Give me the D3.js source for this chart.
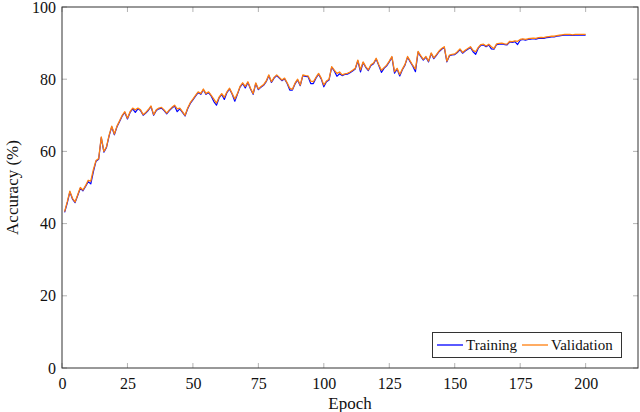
<!DOCTYPE html>
<html><head><meta charset="utf-8">
<script src="https://cdn.jsdelivr.net/npm/d3@7"></script>
<style>html,body{margin:0;padding:0;background:#fff;} svg{display:block;}</style>
</head><body>
<svg id="c" width="640" height="412"></svg>
<script>
const xTicks = [0, 25, 50, 75, 100, 125, 150, 175, 200];
const yTicks = [0, 20, 40, 60, 80, 100];
const seriesNames = ["Training", "Validation"];
const validation = [
 43.3, 46.0, 49.0, 47.0, 46.0, 48.0, 50.0, 49.3, 50.5, 52.0,
 51.8, 55.0, 57.5, 58.0, 64.0, 60.0, 61.3, 64.5, 67.0, 64.8,
 67.0, 68.5, 70.0, 71.0, 69.2, 71.0, 72.0, 71.5, 72.0, 71.5,
 70.2, 70.8, 71.6, 72.6, 70.2, 71.5, 72.0, 72.2, 71.5, 70.6,
 71.5, 72.2, 72.8, 71.8, 72.0, 71.0, 70.0, 72.0, 73.5, 74.5,
 75.5, 76.5, 76.0, 77.3, 76.0, 76.5, 75.5, 74.5, 73.4, 75.0,
 76.0, 75.0, 76.5, 77.5, 76.0, 74.5, 76.0, 78.0, 79.0, 78.0,
 79.3, 77.5, 76.0, 79.0, 77.3, 78.0, 78.5, 79.5, 81.2, 79.3,
 80.5, 81.2, 80.5, 79.8, 80.3, 79.0, 77.5, 77.2, 78.9, 80.0,
 78.4, 81.2, 81.0, 80.9, 79.5, 79.3, 80.5, 81.6, 80.3, 78.4,
 79.5, 80.0, 83.5, 82.5, 81.6, 82.0, 81.2, 81.5, 81.6, 82.0,
 82.5, 83.0, 85.3, 82.6, 84.8, 83.5, 82.6, 84.0, 84.5, 85.8,
 84.0, 82.5, 83.2, 83.9, 85.0, 86.3, 82.1, 83.0, 81.3, 82.8,
 84.1, 86.3, 85.0, 83.8, 82.8, 87.7, 86.5, 85.5, 86.3, 85.0,
 87.3, 85.9, 86.8, 87.8, 88.5, 89.0, 85.0, 86.7, 86.9, 87.0,
 87.6, 88.4, 87.4, 88.0, 88.5, 89.0, 88.0, 87.6, 88.8, 89.6,
 89.7, 89.2, 89.7, 89.0, 88.5, 89.8, 89.9, 90.0, 89.8, 89.7,
 90.5, 90.4, 90.6, 90.5, 91.0, 91.2, 91.0, 91.2, 91.3, 91.4,
 91.3, 91.5, 91.6, 91.5, 91.7, 91.8, 91.9, 91.9, 92.1, 92.2,
 92.3, 92.4, 92.4, 92.4, 92.3, 92.4, 92.4, 92.4, 92.4, 92.4
];
const training = [
 43.1, 45.7, 48.8, 46.8, 45.8, 47.8, 49.8, 49.1, 50.3, 51.6,
 51.0, 54.4, 57.3, 57.8, 63.8, 59.8, 61.1, 64.3, 66.8, 64.6,
 66.8, 68.3, 69.8, 70.8, 69.0, 70.8, 71.8, 70.8, 71.8, 71.3,
 70.0, 70.6, 71.4, 72.4, 70.0, 71.3, 71.8, 72.0, 71.3, 70.4,
 71.3, 72.0, 72.6, 71.0, 71.8, 70.8, 69.8, 71.8, 73.3, 74.3,
 75.3, 76.3, 75.8, 77.1, 75.8, 76.3, 75.3, 73.8, 72.8, 74.8,
 75.8, 74.4, 76.3, 77.3, 75.8, 73.9, 75.8, 77.8, 78.8, 77.6,
 79.1, 77.3, 75.8, 78.8, 77.1, 77.8, 78.3, 79.3, 81.0, 79.1,
 80.3, 81.0, 80.3, 79.6, 80.1, 78.8, 77.0, 77.0, 78.7, 79.8,
 78.2, 81.0, 80.8, 80.7, 78.8, 78.8, 80.3, 81.4, 80.1, 77.9,
 79.3, 79.8, 83.3, 82.3, 80.8, 81.5, 81.0, 81.3, 81.4, 81.8,
 82.3, 82.8, 85.1, 82.0, 84.6, 83.3, 82.4, 83.8, 84.3, 85.6,
 83.8, 81.9, 83.0, 83.7, 84.8, 86.1, 81.7, 82.8, 80.9, 82.6,
 83.9, 86.1, 84.8, 83.6, 82.1, 87.5, 86.3, 85.3, 86.1, 84.8,
 87.1, 85.7, 86.6, 87.6, 88.3, 88.8, 84.8, 86.5, 86.7, 86.8,
 87.4, 88.2, 87.2, 87.8, 88.3, 88.8, 87.6, 86.9, 88.6, 89.4,
 89.5, 89.0, 89.5, 88.4, 88.3, 89.6, 89.7, 89.8, 89.6, 89.5,
 90.3, 90.2, 90.4, 89.6, 90.8, 91.0, 90.8, 91.0, 91.1, 91.2,
 91.1, 91.3, 91.4, 91.3, 91.5, 91.6, 91.7, 91.7, 91.9, 92.0,
 92.1, 92.2, 92.2, 92.2, 92.1, 92.2, 92.2, 92.2, 92.2, 92.2
];
const colors = ["#0000ff", "#ff7f0e"];

const svg = d3.select("#c");
const L = 62, R = 638, T = 7, B = 368;
const x = d3.scaleLinear().domain([0, 220]).range([L, R]);
const y = d3.scaleLinear().domain([0, 100]).range([B, T]);
const font = "'Liberation Serif', 'DejaVu Serif', serif";

// ticks (inward, grey) on all four sides
const tickLen = 5;
const tickG = svg.append("g").attr("stroke", "#a0a0a0").attr("stroke-width", 0.8);
xTicks.forEach(t => {
  tickG.append("line").attr("x1", x(t)).attr("x2", x(t)).attr("y1", B).attr("y2", B - tickLen);
  tickG.append("line").attr("x1", x(t)).attr("x2", x(t)).attr("y1", T).attr("y2", T + tickLen);
});
yTicks.forEach(t => {
  tickG.append("line").attr("x1", L).attr("x2", L + tickLen).attr("y1", y(t)).attr("y2", y(t));
  tickG.append("line").attr("x1", R).attr("x2", R - tickLen).attr("y1", y(t)).attr("y2", y(t));
});

// axes labels via d3 axes (ticks hidden, labels only)
const xAxis = d3.axisBottom(x).tickValues(xTicks).tickSize(0).tickPadding(10).tickFormat(d3.format("d"));
const gx = svg.append("g").attr("transform", `translate(0,${B})`).call(xAxis);
gx.select(".domain").remove();
gx.selectAll("text").attr("font-family", font).attr("font-size", 16).attr("fill", "#111");

const yAxis = d3.axisLeft(y).tickValues(yTicks).tickSize(0).tickPadding(6).tickFormat(d3.format("d"));
const gy = svg.append("g").attr("transform", `translate(${L},0)`).call(yAxis);
gy.select(".domain").remove();
gy.selectAll("text").attr("font-family", font).attr("font-size", 16).attr("fill", "#111");

// lines
const line = d3.line().x((d, i) => x(i + 1)).y(d => y(d));
[training, validation].forEach((s, k) => {
  svg.append("path").datum(s).attr("d", line)
    .attr("fill", "none").attr("stroke", colors[k]).attr("stroke-width", k === 0 ? 1.2 : 1.3)
    .attr("stroke-linejoin", "round");
});

// frame
svg.append("rect").attr("x", L).attr("y", T).attr("width", R - L).attr("height", B - T)
  .attr("fill", "none").attr("stroke", "#333").attr("stroke-width", 1);

// axis titles
svg.append("text").attr("x", (L + R) / 2).attr("y", 409).attr("text-anchor", "middle")
  .attr("font-family", font).attr("font-size", 17).attr("fill", "#111").text("Epoch");
svg.append("text").attr("transform", `translate(18,${(T + B) / 2}) rotate(-90)`)
  .attr("text-anchor", "middle").attr("font-family", font).attr("font-size", 17).attr("fill", "#111")
  .text("Accuracy (%)");

// legend
const lg = svg.append("g");
lg.append("rect").attr("x", 432.5).attr("y", 332.5).attr("width", 189).attr("height", 25)
  .attr("fill", "#fff").attr("stroke", "#333").attr("stroke-width", 1);
const legX = [437, 522];
seriesNames.forEach((n, k) => {
  lg.append("line").attr("x1", legX[k]).attr("x2", legX[k] + 26).attr("y1", 345).attr("y2", 345)
    .attr("stroke", colors[k]).attr("stroke-width", 1.3);
  lg.append("text").attr("x", legX[k] + 29).attr("y", 350).attr("font-family", font)
    .attr("font-size", 15).attr("fill", "#111").text(n);
});
</script>
</body></html>
